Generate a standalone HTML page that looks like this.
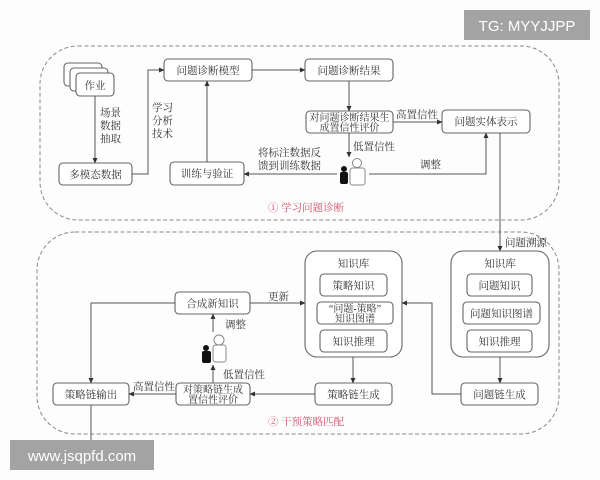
<!DOCTYPE html>
<html><head><meta charset="utf-8"><style>
html,body{margin:0;padding:0;background:#fff;}
svg{display:block;}
text{font-family:"Liberation Serif","Noto Serif CJK SC","Noto Sans CJK SC",serif;font-size:10.5px;fill:#333;}
.s{font-size:10px;}
.b{fill:#fff;stroke:#666;stroke-width:1.1;}
.l{fill:none;stroke:#555;stroke-width:1;}
.d{fill:none;stroke:#888;stroke-width:1;stroke-dasharray:4,2.5;}
</style></head><body>
<svg width="600" height="480" viewBox="0 0 600 480" xmlns="http://www.w3.org/2000/svg">
<defs><marker id="a" markerWidth="6" markerHeight="6" refX="5" refY="3" orient="auto" markerUnits="userSpaceOnUse"><path d="M0,0.5 L5.5,3 L0,5.5z" fill="#333"/></marker></defs>
<rect width="600" height="480" fill="#fdfdfd"/>
<rect x="40" y="46" width="519" height="174" rx="38" class="d"/>
<rect x="37" y="232" width="522" height="202" rx="38" class="d"/>

<rect x="64" y="63" width="38" height="23" rx="4" class="b"/>
<rect x="70" y="68" width="38" height="23" rx="4" class="b"/>
<rect x="76" y="73" width="38" height="23" rx="4" class="b"/>
<text x="95" y="89" text-anchor="middle">作业</text>
<rect x="59" y="163" width="73" height="22" rx="4" class="b"/><text x="95.5" y="178" text-anchor="middle">多模态数据</text>
<rect x="164" y="59" width="88" height="22" rx="4" class="b"/><text x="208" y="74" text-anchor="middle">问题诊断模型</text>
<rect x="170" y="162" width="74" height="23" rx="4" class="b"/><text x="207" y="177" text-anchor="middle">训练与验证</text>
<rect x="305" y="59" width="88" height="22" rx="4" class="b"/><text x="349" y="74" text-anchor="middle">问题诊断结果</text>
<rect x="306" y="111" width="87" height="22" rx="4" class="b"/>
<text x="349.5" y="121" text-anchor="middle" class="s">对问题诊断结果生</text><text x="349.5" y="131" text-anchor="middle" class="s">成置信性评价</text>
<rect x="442" y="110" width="88" height="23" rx="4" class="b"/><text x="486" y="125" text-anchor="middle">问题实体表示</text>

<text x="100" y="116">场景</text><text x="100" y="129">数据</text><text x="100" y="142">抽取</text>
<text x="152" y="111">学习</text><text x="152" y="124">分析</text><text x="152" y="137">技术</text>
<text x="258" y="156">将标注数据反</text><text x="258" y="169">馈到训练数据</text>
<text x="353" y="150">低置信性</text>
<text x="396" y="118">高置信性</text>
<text x="420" y="168">调整</text>
<text x="268" y="211" style="fill:#d0506a;">① 学习问题诊断</text>

<path d="M95,96 V163" class="l" marker-end="url(#a)"/>
<path d="M132,174 H148 V70 H164" class="l" marker-end="url(#a)"/>
<path d="M207,162 V81" class="l" marker-end="url(#a)"/>
<path d="M252,70 H305" class="l" marker-end="url(#a)"/>
<path d="M349,81 V111" class="l" marker-end="url(#a)"/>
<path d="M393,122 H442" class="l" marker-end="url(#a)"/>
<path d="M349,133 V157" class="l" marker-end="url(#a)"/>
<path d="M337,174 H244" class="l" marker-end="url(#a)"/>
<path d="M369,174 H486 V133" class="l" marker-end="url(#a)"/>
<path d="M500,133 V251" class="l" marker-end="url(#a)"/>
<g><circle cx="344" cy="169" r="3" fill="#111"/><rect x="340" y="172" width="8" height="12" rx="2" fill="#111"/></g>
<g fill="#fff" stroke="#888"><circle cx="357" cy="163" r="4.5"/><rect x="350" y="168" width="15" height="17" rx="2.5"/></g>

<text x="505" y="246">问题溯源</text>
<rect x="305" y="251" width="97" height="106" rx="12" class="b"/><text x="353.5" y="267" text-anchor="middle">知识库</text>
<rect x="320" y="274" width="67" height="22" rx="4" class="b"/><text x="353.5" y="289" text-anchor="middle">策略知识</text>
<rect x="317" y="302" width="76" height="22" rx="4" class="b"/><text x="355" y="312" text-anchor="middle" class="s">“问题-策略”</text><text x="355" y="322" text-anchor="middle" class="s">知识图谱</text>
<rect x="320" y="330" width="67" height="22" rx="4" class="b"/><text x="353.5" y="345" text-anchor="middle">知识推理</text>
<rect x="451" y="251" width="98" height="106" rx="12" class="b"/><text x="500" y="267" text-anchor="middle">知识库</text>
<rect x="467" y="274" width="65" height="22" rx="4" class="b"/><text x="499.5" y="289" text-anchor="middle">问题知识</text>
<rect x="463" y="302" width="77" height="22" rx="4" class="b"/><text x="501.5" y="317" text-anchor="middle">问题知识图谱</text>
<rect x="467" y="330" width="65" height="22" rx="4" class="b"/><text x="499.5" y="345" text-anchor="middle">知识推理</text>
<rect x="175" y="292" width="75" height="22" rx="4" class="b"/><text x="212.5" y="307" text-anchor="middle">合成新知识</text>
<rect x="53" y="383" width="76" height="22" rx="4" class="b"/><text x="91" y="398" text-anchor="middle">策略链输出</text>
<rect x="176" y="383" width="74" height="22" rx="4" class="b"/><text x="213" y="393" text-anchor="middle" class="s">对策略链生成</text><text x="213" y="403" text-anchor="middle" class="s">置信性评价</text>
<rect x="315" y="383" width="77" height="22" rx="4" class="b"/><text x="353.5" y="398" text-anchor="middle">策略链生成</text>
<rect x="461" y="383" width="77" height="22" rx="4" class="b"/><text x="499.5" y="398" text-anchor="middle">问题链生成</text>

<text x="268" y="300">更新</text>
<text x="225" y="328">调整</text>
<text x="223" y="378">低置信性</text>
<text x="133" y="390">高置信性</text>
<text x="268" y="425" style="fill:#d0506a;">② 干预策略匹配</text>

<path d="M353,357 V383" class="l" marker-end="url(#a)"/>
<path d="M500,357 V383" class="l" marker-end="url(#a)"/>
<path d="M461,394 H432 V303 H402" class="l" marker-end="url(#a)"/>
<path d="M315,394 H250" class="l" marker-end="url(#a)"/>
<path d="M213,383 V365" class="l" marker-end="url(#a)"/>
<path d="M213,332 V314" class="l" marker-end="url(#a)"/>
<path d="M250,303 H305" class="l" marker-end="url(#a)"/>
<path d="M175,303 H91 V383" class="l" marker-end="url(#a)"/>
<path d="M176,394 H129" class="l" marker-end="url(#a)"/>
<path d="M91,405 V445" class="l"/>
<g><circle cx="206" cy="348" r="3" fill="#111"/><rect x="202" y="351" width="9" height="12" rx="2" fill="#111"/></g>
<g fill="#fff" stroke="#888"><circle cx="219" cy="340" r="5"/><rect x="213" y="345" width="13" height="17" rx="2.5"/></g>

<rect x="464" y="10" width="126" height="30" fill="#a3a3a3"/>
<text x="527" y="31" text-anchor="middle" style="font-family:'Liberation Sans',sans-serif;font-size:15px;fill:#fff;">TG: MYYJJPP</text>
<rect x="10" y="440" width="144" height="30" fill="#a3a3a3"/>
<text x="82" y="461" text-anchor="middle" style="font-family:'Liberation Sans',sans-serif;font-size:15px;fill:#fff;">www.jsqpfd.com</text>
</svg>
</body></html>
